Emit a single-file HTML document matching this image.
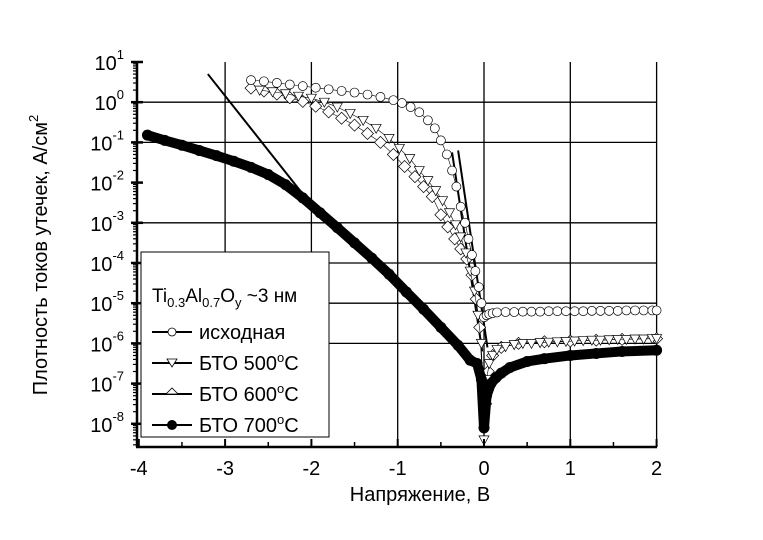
<!DOCTYPE html>
<html><head><meta charset="utf-8"><style>
body{margin:0;background:#fff;}
svg text{font-family:"Liberation Sans",Arial,sans-serif;fill:#000;}
</style></head><body>
<svg id="chart" width="763" height="535" viewBox="0 0 763 535" xmlns="http://www.w3.org/2000/svg">
<g id="grid"></g>
<g id="series"></g>
<g id="axes"></g>
<g id="legend">
  <rect x="141" y="252" width="188" height="185" fill="#fff" stroke="#000" stroke-width="1"/>
  <text x="152" y="302" font-size="19">Ti<tspan font-size="13" dy="5">0.3</tspan><tspan dy="-5">Al</tspan><tspan font-size="13" dy="5">0.7</tspan><tspan dy="-5">O</tspan><tspan font-size="13" dy="5">y</tspan><tspan dy="-5"> ~3 нм</tspan></text>
  <g><line x1="152" y1="332" x2="192" y2="332" stroke="#000" stroke-width="2"/><circle cx="172" cy="332" r="4" fill="#fff" stroke="#000" stroke-width="0.8"/><text x="199" y="339" font-size="20">исходная</text></g>
  <g><line x1="152" y1="363" x2="192" y2="363" stroke="#000" stroke-width="2"/><path d="M167 359 L177 359 L172 367 Z" fill="#fff" stroke="#000" stroke-width="0.8"/><text x="199" y="370" font-size="20">БТО 500<tspan font-size="13" dy="-8">o</tspan><tspan dy="8">C</tspan></text></g>
  <g><line x1="152" y1="394" x2="192" y2="394" stroke="#000" stroke-width="2"/><path d="M166 394 L172 388 L178 394 Z" fill="#fff" stroke="#000" stroke-width="0.8"/><text x="199" y="401" font-size="20">БТО 600<tspan font-size="13" dy="-8">o</tspan><tspan dy="8">C</tspan></text></g>
  <g><line x1="152" y1="425" x2="192" y2="425" stroke="#000" stroke-width="2"/><circle cx="172" cy="425" r="5" fill="#000"/><text x="199" y="432" font-size="20">БТО 700<tspan font-size="13" dy="-8">o</tspan><tspan dy="8">C</tspan></text></g>
</g>
<text x="420" y="501" font-size="20" text-anchor="middle">Напряжение, В</text>
<text transform="translate(47,255) rotate(-90)" font-size="20" text-anchor="middle">Плотность токов утечек, А/см<tspan font-size="13" dy="-9">2</tspan></text>
</svg>
<script>
const xTicks=[-4,-3,-2,-1,0,1,2];
const yDecades=[1,0,-1,-2,-3,-4,-5,-6,-7,-8];
const volt0=[-2.7,-2.55,-2.4,-2.25,-2.1,-1.95,-1.8,-1.65,-1.5,-1.35,-1.2,-1.05,-0.95,-0.85,-0.75,-0.65,-0.57,-0.5,-0.43,-0.37,-0.32,-0.27,-0.22,-0.18,-0.14,-0.1,-0.06,-0.03,0.0,0.03,0.06,0.1,0.15,0.25,0.35,0.45,0.55,0.65,0.75,0.85,0.95,1.05,1.15,1.25,1.35,1.45,1.55,1.65,1.75,1.85,1.95,2.0];
const logJ0=[0.55,0.52,0.48,0.44,0.4,0.36,0.32,0.28,0.24,0.19,0.13,0.05,-0.02,-0.12,-0.25,-0.45,-0.65,-0.95,-1.3,-1.7,-2.1,-2.6,-3.0,-3.4,-3.8,-4.2,-4.6,-5.0,-5.35,-5.3,-5.27,-5.25,-5.23,-5.22,-5.22,-5.21,-5.21,-5.21,-5.2,-5.2,-5.2,-5.2,-5.2,-5.19,-5.19,-5.19,-5.19,-5.18,-5.18,-5.18,-5.18,-5.18];
const volt500=[-2.6,-2.45,-2.3,-2.15,-2.0,-1.85,-1.7,-1.55,-1.4,-1.25,-1.1,-0.98,-0.86,-0.75,-0.65,-0.56,-0.48,-0.4,-0.33,-0.27,-0.21,-0.16,-0.11,-0.07,-0.03,0.0,0.03,0.06,0.1,0.15,0.25,0.35,0.45,0.55,0.65,0.75,0.85,0.95,1.05,1.15,1.25,1.35,1.45,1.55,1.65,1.75,1.85,1.95,2.0];
const logJ500=[0.3,0.26,0.21,0.15,0.1,0.0,-0.12,-0.28,-0.45,-0.65,-0.9,-1.15,-1.4,-1.7,-1.95,-2.2,-2.45,-2.75,-3.05,-3.35,-3.75,-4.2,-4.7,-5.3,-6.0,-8.4,-6.9,-6.5,-6.3,-6.15,-6.08,-6.03,-6.0,-6.0,-5.98,-5.97,-5.96,-5.95,-5.94,-5.93,-5.92,-5.92,-5.91,-5.9,-5.9,-5.89,-5.89,-5.88,-5.88];
const volt600=[-2.7,-2.55,-2.4,-2.25,-2.1,-1.95,-1.8,-1.65,-1.5,-1.35,-1.2,-1.05,-0.92,-0.8,-0.7,-0.6,-0.5,-0.42,-0.34,-0.27,-0.2,-0.14,-0.09,-0.05,-0.02,0.02,0.05,0.1,0.2,0.4,0.7,1.0,1.3,1.6,2.0];
const logJ600=[0.35,0.28,0.2,0.11,0.02,-0.1,-0.24,-0.4,-0.57,-0.78,-1.0,-1.3,-1.6,-1.85,-2.1,-2.35,-2.8,-3.1,-3.4,-3.65,-3.9,-4.3,-4.9,-5.6,-6.8,-7.5,-6.7,-6.3,-6.1,-6.0,-5.96,-5.94,-5.92,-5.9,-5.88];
const volt700=[-3.9,-3.7,-3.5,-3.3,-3.1,-2.9,-2.7,-2.5,-2.3,-2.1,-1.9,-1.7,-1.5,-1.3,-1.1,-0.9,-0.7,-0.5,-0.3,-0.16,-0.08,-0.03,0.0,0.03,0.08,0.14,0.2,0.3,0.5,0.7,1.0,1.3,1.6,2.0];
const logJ700=[-0.82,-0.95,-1.07,-1.2,-1.33,-1.47,-1.62,-1.8,-2.05,-2.38,-2.75,-3.12,-3.5,-3.88,-4.28,-4.72,-5.15,-5.6,-6.05,-6.42,-6.5,-6.9,-8.1,-7.3,-7.0,-6.85,-6.74,-6.6,-6.45,-6.38,-6.3,-6.25,-6.2,-6.17];
const fitV=[[-3.2,-2.02],[-0.37,-0.02],[-0.3,0.04]];
const fitLogJ=[[0.7,-2.5],[-1.25,-6.2],[-1.2,-6.1]];

const NS="http://www.w3.org/2000/svg";
const X=v=>484+v*86.3;
const Y=l=>62+(1-l)*40.2;
function mk(tag,attrs,parent){const e=document.createElementNS(NS,tag);for(const k in attrs)e.setAttribute(k,attrs[k]);parent.appendChild(e);return e;}
const grid=document.getElementById('grid'),axes=document.getElementById('axes'),ser=document.getElementById('series');

[0,-1,-3].forEach(d=>{const g=mk('line',{x1:137,x2:656,y1:Y(d),y2:Y(d),stroke:'#000','stroke-width':1.3},grid);

});
[-4,-5,-6].forEach(d=>{const g=mk('line',{x1:329,x2:656,y1:Y(d),y2:Y(d),stroke:'#000','stroke-width':1.3},grid);

});
[-3,-2].forEach(v=>{const g=mk('line',{x1:X(v),x2:X(v),y1:62,y2:252,stroke:'#000','stroke-width':1.3},grid);

});
[-1,0,1,2].forEach(v=>{const g=mk('line',{x1:X(v),x2:X(v),y1:62,y2:447,stroke:'#000','stroke-width':1.3},grid);

});

let a=mk('line',{x1:137,x2:137,y1:62,y2:447,stroke:'#000','stroke-width':2.5},axes);


a=mk('line',{x1:136,x2:657,y1:447,y2:447,stroke:'#000','stroke-width':2.5},axes);


xTicks.forEach(v=>{
  const t=mk('line',{x1:X(v),x2:X(v),y1:447,y2:439,stroke:'#000','stroke-width':2},axes);
  
  
  const l=mk('text',{x:X(v),y:475,'font-size':20,'text-anchor':'middle'},axes);l.textContent=String(v);
  
  
  if(v<2){const m=mk('line',{x1:X(v+0.5),x2:X(v+0.5),y1:447,y2:442,stroke:'#000','stroke-width':1.5},axes);
  
  }
});
yDecades.forEach(d=>{
  const t=mk('line',{x1:131,x2:143,y1:Y(d),y2:Y(d),stroke:'#000','stroke-width':2.5},axes);
  
  
  const l=mk('text',{x:124,y:Y(d)+8,'font-size':20,'text-anchor':'end'},axes);
  l.innerHTML='10<tspan font-size="13" dy="-11">'+d+'</tspan>';
  
  
  for(let k=2;k<=9;k++){const yy=Y(d-1+Math.log10(k));if(yy>447)continue;
    const m=mk('line',{x1:133,x2:137,y1:yy,y2:yy,stroke:'#000','stroke-width':1.2},axes);
    
    }
});

fitV.forEach((vs,i)=>{const f=mk('line',{x1:X(vs[0]),y1:Y(fitLogJ[i][0]),x2:X(vs[1]),y2:Y(fitLogJ[i][1]),stroke:'#000','stroke-width':2},ser);

});

function series(vs,ls,name,marker,width){
  const g=mk('g',{},ser);
  
  
  const p=mk('polyline',{points:vs.map((v,i)=>X(v)+','+Y(ls[i])).join(' '),fill:'none',stroke:'#000','stroke-width':width},g);
  
  
  vs.forEach((v,i)=>{const x=X(v),y=Y(ls[i]);let m;
    if(marker==='circle')m=mk('circle',{cx:x,cy:y,r:4.5,fill:'#fff',stroke:'#000','stroke-width':0.7},g);
    else if(marker==='tri')m=mk('path',{d:`M${x-5} ${y-4}L${x+5} ${y-4}L${x} ${y+5}Z`,fill:'#fff',stroke:'#000','stroke-width':0.7},g);
    else if(marker==='dia')m=mk('path',{d:`M${x-6} ${y}L${x} ${y-6}L${x+6} ${y}L${x} ${y+6}Z`,fill:'#fff',stroke:'#000','stroke-width':0.7},g);
    else m=mk('circle',{cx:x,cy:y,r:5.5,fill:'#000'},g);
    
    });
}
series(volt600,logJ600,'series-600C','dia',0.6);
series(volt500,logJ500,'series-500C','tri',0.6);
series(volt0,logJ0,'series-original','circle',0.6);
series(volt700,logJ700,'series-700C','filled',10);
</script>
</body></html>
